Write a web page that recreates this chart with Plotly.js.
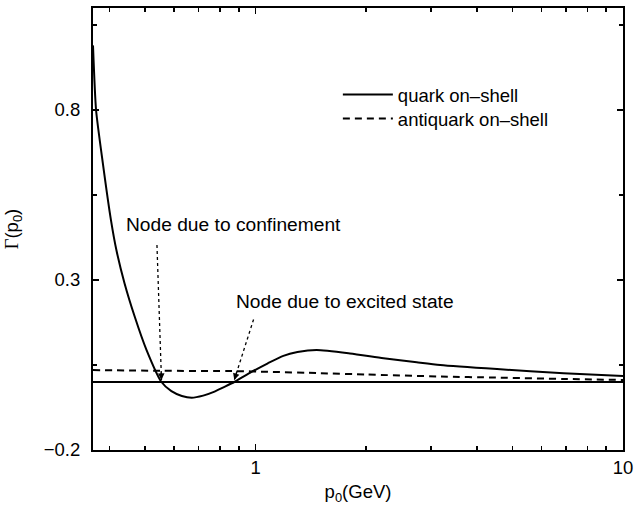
<!DOCTYPE html>
<html>
<head>
<meta charset="utf-8">
<script src="https://cdn.plot.ly/plotly-3.0.1.min.js"></script>
<style>
  html, body { margin: 0; padding: 0; background: #fff; }
  #chart { width: 634px; height: 505px; }
</style>
</head>
<body>
<div id="chart"></div>
<script>
// p0 grid (GeV) and the quark on-shell amplitude Γ(p0)
const p0Quark = [0.361, 0.368, 0.384, 0.404, 0.418, 0.440, 0.469, 0.505, 0.5545, 0.59,
                 0.63, 0.67, 0.72, 0.77, 0.82, 0.875, 0.965, 1.08, 1.19, 1.30,
                 1.466, 1.807, 2.23, 2.746, 3.18, 4.54, 6.89, 10];
const gammaQuark = [0.99, 0.80, 0.643, 0.476, 0.388, 0.290, 0.192, 0.094, 0.0, -0.027,
                    -0.041, -0.046, -0.040, -0.029, -0.015, 0.0, 0.027, 0.055, 0.077, 0.088,
                    0.094, 0.084, 0.070, 0.058, 0.050, 0.038, 0.026, 0.018];

// antiquark on-shell amplitude
const p0Anti = [0.361, 0.55, 0.88, 1.08, 1.5, 2.0, 3.2, 4.5, 6.9, 10];
const gammaAnti = [0.035, 0.033, 0.032, 0.030, 0.026, 0.022, 0.016, 0.013, 0.009, 0.006];

// axis ticks
const xTickVals = [1, 10];
const xTickText = ['1', '10'];
const xMinorVals = [0.4, 0.5, 0.6, 0.7, 0.8, 0.9, 2, 3, 4, 5, 6, 7, 8, 9];
const yTickVals = [-0.2, 0.3, 0.8];
const yTickText = ['\u22120.2', '0.3', '0.8'];
const yMinorVals = [0.05, 0.55, 1.05];

const seriesNames = ['quark on\u2013shell', 'antiquark on\u2013shell'];
const nodeLabels = ['Node due to confinement', 'Node due to excited state'];

// where each label's dotted pointer starts (p0, Γ)
const pointerTails = [[0.539, 0.403], [0.9875, 0.184]];
// label centres (p0, Γ)
const labelPos = [[0.870, 0.462], [1.755, 0.238]];

// zero crossings of the quark curve (interpolated in log p0)
function zeroCrossings(xs, ys) {
  const out = [];
  for (let i = 0; i < xs.length - 1; i++) {
    const a = ys[i], b = ys[i + 1];
    if (a === 0 && (i === 0 || ys[i - 1] !== 0)) { out.push(xs[i]); continue; }
    if (a * b < 0) {
      const la = Math.log10(xs[i]), lb = Math.log10(xs[i + 1]);
      out.push(Math.pow(10, la + (lb - la) * (a / (a - b))));
    }
  }
  return out;
}
const nodes = zeroCrossings(p0Quark, gammaQuark);
const TIP_Y = 0.006;

const FONT = 'Liberation Sans, Arial, Helvetica, sans-serif';
const FS = 18.5;

const traces = [
  {
    x: p0Quark, y: gammaQuark, name: seriesNames[0], type: 'scatter', mode: 'lines',
    line: { color: '#000', width: 2, shape: 'spline', smoothing: 0.6 },
    legend: 'legend'
  },
  {
    x: p0Anti, y: gammaAnti, name: seriesNames[1], type: 'scatter', mode: 'lines',
    line: { color: '#000', width: 2, dash: '7px,5px', shape: 'spline', smoothing: 0.6 },
    legend: 'legend2'
  }
];

// dotted pointers from each label down to its node
nodes.forEach((n, i) => {
  traces.push({
    x: [pointerTails[i][0], n], y: [pointerTails[i][1], TIP_Y],
    type: 'scatter', mode: 'lines', showlegend: false, hoverinfo: 'skip',
    line: { color: '#000', width: 1.3, dash: 'dot' }
  });
});

const annotations = nodeLabels.map((t, i) => ({
  x: Math.log10(labelPos[i][0]), y: labelPos[i][1], xref: 'x', yref: 'y',
  text: t, showarrow: false, font: { family: FONT, size: 19.2, color: '#000' }
}));

// arrowheads at the nodes: a short arrow running along each pointer's direction
const headDirs = [[-0.3, -9], [2.8, -9]];
nodes.forEach((n, i) => {
  annotations.push({
    x: Math.log10(n), y: TIP_Y, xref: 'x', yref: 'y', text: '',
    showarrow: true, arrowhead: 2, arrowsize: 1, arrowwidth: 1.3, arrowcolor: '#000',
    ax: headDirs[i][0], ay: headDirs[i][1], standoff: 0
  });
});

const legendBase = {
  xanchor: 'left', yanchor: 'top',
  bgcolor: 'rgba(0,0,0,0)', borderwidth: 0,
  font: { family: FONT, size: FS, color: '#000' },
  itemwidth: 50
};

const layout = {
  width: 634, height: 505,
  margin: { l: 93, r: 11, t: 8, b: 55 },
  paper_bgcolor: '#fff', plot_bgcolor: '#fff',
  font: { family: FONT, size: FS, color: '#000' },
  showlegend: true,
  legend: Object.assign({ x: 0.462, y: 0.846 }, legendBase),
  legend2: Object.assign({ x: 0.462, y: 0.792 }, legendBase),
  xaxis: {
    type: 'log', range: [Math.log10(0.361), 1],
    tickmode: 'array', tickvals: xTickVals, ticktext: xTickText,
    ticks: 'inside', ticklen: 6, tickwidth: 1.5, tickcolor: '#000',
    minor: { tickmode: 'array', tickvals: xMinorVals, ticks: 'inside', ticklen: 4, tickwidth: 1.5, tickcolor: '#000' },
    showline: true, linewidth: 2, linecolor: '#000', mirror: 'allticks',
    showgrid: false, zeroline: false,
    tickfont: { family: FONT, size: FS, color: '#000' },
    title: { text: 'p<sub>0</sub>(GeV)', font: { family: FONT, size: FS, color: '#000' }, standoff: 8 }
  },
  yaxis: {
    range: [-0.2, 1.1],
    tickmode: 'array', tickvals: yTickVals, ticktext: yTickText,
    ticks: 'inside', ticklen: 6, tickwidth: 1.5, tickcolor: '#000',
    ticklabelstandoff: 7,
    minor: { tickmode: 'array', tickvals: yMinorVals, ticks: 'inside', ticklen: 4, tickwidth: 1.5, tickcolor: '#000' },
    showline: true, linewidth: 2, linecolor: '#000', mirror: 'allticks',
    showgrid: false, zeroline: true, zerolinewidth: 2, zerolinecolor: '#000',
    tickfont: { family: FONT, size: FS, color: '#000' },
    title: {
      text: '<span style="font-family:Liberation Serif, DejaVu Serif, serif">\u0393</span>(p<sub>0</sub>)',
      font: { family: FONT, size: FS, color: '#000' }, standoff: 20
    }
  },
  annotations: annotations
};

Plotly.newPlot('chart', traces, layout, { displayModeBar: false, staticPlot: true });
</script>
</body>
</html>
